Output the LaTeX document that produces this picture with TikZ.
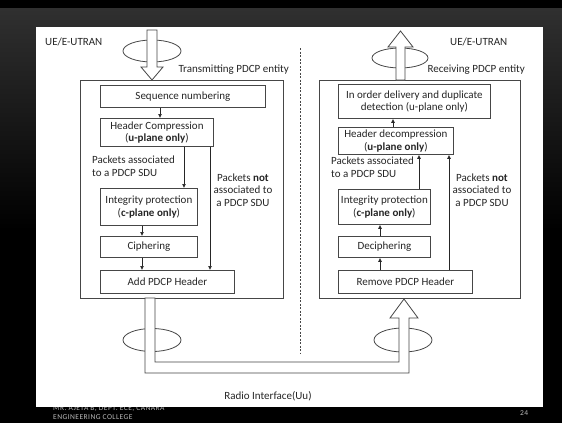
\documentclass[tikz,border=0pt]{standalone}
\usepackage{fontspec}
\setmainfont{Carlito}
\usetikzlibrary{arrows.meta, positioning}
\definecolor{txtgray}{RGB}{38,38,38}
\definecolor{linegray}{RGB}{70,70,70}
\definecolor{footgray}{RGB}{185,185,185}
\definecolor{bgdark}{RGB}{48,48,48}

\begin{document}
\begin{tikzpicture}[x=1pt, y=-1pt,
  blk/.style={draw=linegray, line width=0.8pt, fill=white, anchor=north west,
    align=center, inner sep=1pt, text=txtgray, font=\fontsize{11}{12.5}\selectfont},
  entity/.style={draw=linegray, line width=0.8pt, anchor=north west, inner sep=0pt},
  lbl/.style={text=txtgray, inner sep=0pt, font=\fontsize{11}{12.5}\selectfont},
  link/.style={-{Latex[length=4pt,width=4pt]}, line width=0.7pt, draw=txtgray},
  fat/.style={draw=linegray, line width=0.8pt, fill=white},
  ring/.style={draw=linegray, line width=0.8pt},
  foot/.style={text=footgray, inner sep=0pt, anchor=west,
    font=\fontsize{7.5}{9}\selectfont\addfontfeature{LetterSpace=6}}]

  % slide background
  \fill[black] (0,0) rectangle (562,423);
  \shade[top color=bgdark, bottom color=black] (0,8) rectangle (562,230);
  \node[foot] (author) at (53,409) {MR. AJETA B, DEPT. ECE, CANARA};
  \fill[white] (36,27) rectangle (543,407);
  \node[foot] (college) at (53,417) {ENGINEERING COLLEGE};
  \node[foot] (page) at (520,413) {24};

  % entities
  \node[entity, minimum width=203pt, minimum height=218pt] (tx) at (80,80) {};
  \node[entity, minimum width=201pt, minimum height=218pt] (rx) at (319,80) {};
  \node[lbl, anchor=west] (uel) at (45,42) {UE/E-UTRAN};
  \node[lbl, anchor=west] (uer) at (450,42) {UE/E-UTRAN};
  \node[lbl, anchor=east] (txname) at (289,70) {Transmitting PDCP entity};
  \node[lbl, anchor=east] (rxname) at (525,70) {Receiving PDCP entity};

  % separator
  \draw[linegray, line width=0.6pt, dash pattern=on 2pt off 1.5pt] (300,48) -- (300,353);

  % transmitting side
  \node[blk, minimum width=165pt, minimum height=22pt] (seq) at (100,85) {Sequence numbering};
  \node[blk, minimum width=113pt, minimum height=28pt] (hc) at (100,118)
    {Header Compression\\(\textbf{u-plane only})};
  \node[blk, minimum width=97pt, minimum height=37pt] (intx) at (100,188)
    {Integrity protection\\(\textbf{c-plane only})};
  \node[blk, minimum width=97pt, minimum height=21pt] (ciph) at (100,236) {Ciphering};
  \node[blk, minimum width=134pt, minimum height=23pt] (addh) at (100,270) {Add PDCP Header};
  \node[lbl, anchor=west, align=left] (assx) at (92,166) {Packets associated\\to a PDCP SDU};
  \node[lbl, align=center] (notx) at (243,190) {Packets \textbf{not}\\associated to\\a PDCP SDU};

  \draw[link] ([xshift=60pt]seq.south west) -- ([xshift=60pt]hc.north west);
  \draw[link] ([xshift=84pt]hc.south west) -- ([xshift=84pt]intx.north west);
  \draw[link] ([xshift=110pt]hc.south west) -- ([xshift=110pt]addh.north west);
  \draw[link] ([xshift=42pt]intx.south west) -- ([xshift=42pt]ciph.north west);
  \draw[link] ([xshift=42pt]ciph.south west) -- ([xshift=42pt]addh.north west);

  % receiving side
  \node[blk, minimum width=152pt, minimum height=34pt] (dlv) at (338,84)
    {In order delivery and duplicate\\detection (u-plane only)};
  \node[blk, minimum width=115pt, minimum height=27pt] (hd) at (338,127)
    {Header decompression\\(\textbf{u-plane only})};
  \node[blk, minimum width=92pt, minimum height=35pt] (inrx) at (338,189)
    {Integrity protection\\(\textbf{c-plane only})};
  \node[blk, minimum width=92pt, minimum height=21pt] (deciph) at (338,236) {Deciphering};
  \node[blk, minimum width=134pt, minimum height=23pt] (remh) at (338,270) {Remove PDCP Header};
  \node[lbl, anchor=west, align=left] (assr) at (331,167) {Packets associated\\to a PDCP SDU};
  \node[lbl, align=center] (notr) at (482,190) {Packets \textbf{not}\\associated to\\a PDCP SDU};

  \draw[link] ([xshift=42pt]remh.north west) -- ([xshift=42pt]deciph.south west);
  \draw[link] ([xshift=42pt]deciph.north west) -- ([xshift=42pt]inrx.south west);
  \draw[link] ([xshift=81pt]inrx.north west) -- ([xshift=81pt]hd.south west);
  \draw[link] ([xshift=111pt]remh.north west) -- ([xshift=111pt]hd.south west);
  \draw[link] ([xshift=55pt]hd.north west) -- ([xshift=55pt]dlv.south west);

  % SDU flow in and out
  \draw[ring] (152,51) ellipse [x radius=29, y radius=11];
  \draw[fat] (147,30) -- (157,30) -- (157,67) -- (163,67) -- (152,80) -- (141,67) -- (147,67) -- cycle;
  \draw[ring] (400,58) ellipse [x radius=28, y radius=10];
  \draw[fat] (396,80) -- (396,47) -- (388,47) -- (400.5,31) -- (413,47) -- (405,47) -- (405,80) -- cycle;

  % radio interface
  \draw[ring] (152,340) ellipse [x radius=29, y radius=11.5];
  \draw[ring] (403,340) ellipse [x radius=29, y radius=12];
  \draw[fat] (145,298) -- (145,373) -- (409,373) -- (409,318) -- (418,318) -- (404,299)
    -- (390,318) -- (399,318) -- (399,362) -- (155,362) -- (155,298) -- cycle;
  \node[lbl] (uu) at (268,396) {Radio Interface(Uu)};
\end{tikzpicture}
\end{document}
